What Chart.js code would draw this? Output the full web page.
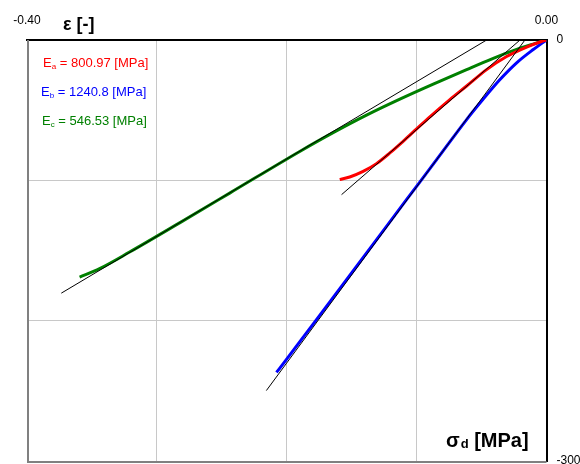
<!DOCTYPE html>
<html><head><meta charset="utf-8">
<script src="https://cdn.jsdelivr.net/npm/chart.js@4.4.0/dist/chart.umd.min.js"></script>
<style>html,body{margin:0;padding:0;background:#fff;}</style>
</head><body>
<canvas id="c" width="580" height="464"></canvas>
<script>
// ---- data (strain ε [-], deviatoric stress σd [MPa]) ----
const strainA = [-0.1592,-0.1515,-0.1412,-0.1309,-0.1206,-0.1104,-0.1000,-0.0898,-0.0744,-0.0615,-0.0461,-0.0307,-0.0153,-0.0050,0];
const stressA = [-99.5,-97.6,-93.6,-88.1,-80.5,-72.2,-63.4,-54.8,-42.5,-32.8,-21.1,-11.8,-5.0,-1.4,0];
const strainB = [-0.2079,-0.2002,-0.1784,-0.1463,-0.1078,-0.0872,-0.0615,-0.0487,-0.0358,-0.0230,-0.0102,0];
const stressB = [-236.9,-227.6,-200.8,-161.4,-113.8,-88.5,-56.7,-42.1,-28.2,-16.3,-6.8,0];
const strainC = [-0.3595,-0.3441,-0.3210,-0.2825,-0.2439,-0.1900,-0.1643,-0.1386,-0.1129,-0.0872,-0.0615,-0.0410,-0.0256,-0.0102,0];
const stressC = [-168.9,-162.9,-151.1,-130.3,-109.1,-79.4,-66.0,-53.5,-42.1,-31.4,-21.1,-13.1,-7.6,-2.9,0];
// tangent (modulus) lines: two end points each
const tanStrainA = [-0.0204,-0.1578];
const tanStressA = [0,-110.2];
const tanStrainB = [-0.0166,-0.2157];
const tanStressB = [0,-249.8];
const tanStrainC = [-0.0461,-0.3736];
const tanStressC = [0,-180.4];
const moduli = ['800.97','1240.8','546.53'];
const subs = ['a','b','c'];
const xTickLabels = ['-0.40','0.00'];
const yTickLabels = ['-300','0'];

const colors = ['#ff0000','#0000ff','#008000'];
const FONT = 'Arial, "Liberation Sans", sans-serif';

function pts(xs, ys){ return xs.map((x,i)=>({x:x, y:ys[i]})); }

function curve(xs, ys, col){
  return {data: pts(xs,ys), borderColor: col, borderWidth: 3, pointRadius: 0, showLine: true, cubicInterpolationMode: 'monotone', order: 2, fill:false};
}
function tangent(xs, ys){
  return {data: pts(xs,ys), borderColor: '#000000', borderWidth: 1, pointRadius: 0, showLine: true, tension: 0, order: 1, fill:false};
}

const framePlugin = {
  id: 'frame',
  beforeDatasetsDraw(chart){
    const {ctx, chartArea:a} = chart;
    ctx.save();
    ctx.strokeStyle = '#808080';
    ctx.lineWidth = 2;
    ctx.beginPath();
    ctx.moveTo(a.left+1, a.top);
    ctx.lineTo(a.left+1, a.bottom+1);
    ctx.lineTo(a.right, a.bottom+1);
    ctx.stroke();
    ctx.restore();
  },
  afterDraw(chart){
    const {ctx, chartArea:a} = chart;
    ctx.save();
    ctx.textBaseline = 'alphabetic';
    ctx.textAlign = 'left';
    const offs = [[16,26.7],[14,55.5],[15,85]];
    for (let i=0;i<3;i++){
      let x = a.left + offs[i][0], y = a.top + offs[i][1];
      ctx.fillStyle = colors[i];
      ctx.font = '13px ' + FONT;
      ctx.fillText('E', x, y);
      x += ctx.measureText('E').width;
      ctx.font = '8px ' + FONT;
      ctx.fillText(subs[i], x, y+2);
      x += ctx.measureText(subs[i]).width;
      ctx.font = '13px ' + FONT;
      ctx.fillText(' = ' + moduli[i] + ' [MPa]', x, y);
    }
    // axis titles
    ctx.fillStyle = '#000';
    ctx.font = 'bold 18px ' + FONT;
    ctx.fillText('ε [-]', a.left + 36, a.top - 10);
    let x = a.left + 419, y = a.bottom - 14;
    ctx.font = 'bold 20px ' + FONT;
    ctx.fillText('σ', x, y);
    x += ctx.measureText('σ').width + 1;
    ctx.font = 'bold 13px ' + FONT;
    ctx.fillText('d', x, y+1);
    x += ctx.measureText('d').width;
    ctx.font = 'bold 20px ' + FONT;
    ctx.fillText(' [MPa]', x, y);
    ctx.restore();
  }
};

new Chart(document.getElementById('c'), {
  type: 'scatter',
  data: { datasets: [
    tangent(tanStrainA, tanStressA),
    tangent(tanStrainB, tanStressB),
    tangent(tanStrainC, tanStressC),
    curve(strainA, stressA, colors[0]),
    curve(strainB, stressB, colors[1]),
    curve(strainC, stressC, colors[2])
  ]},
  options: {
    responsive: false,
    animation: false,
    layout: { padding: { left: 27, right: 0, top: 0, bottom: 3 } },
    plugins: { legend: { display: false }, tooltip: { enabled: false } },
    scales: {
      x: {
        type: 'linear', position: 'top', min: -0.4, max: 0,
        afterFit(s){ s.height = 40; s.paddingLeft = 0; s.paddingRight = 0; },
        grid: { color: '#c8c8c8', lineWidth: 1, drawTicks: false },
        border: { color: '#000', width: 2 },
        ticks: {
          stepSize: 0.1, padding: 12, maxRotation: 0, autoSkip: false,
          color: '#000', font: { family: FONT, size: 12 },
          callback(v){ if (Math.abs(v + 0.4) < 1e-9) return xTickLabels[0]; if (Math.abs(v) < 1e-9) return xTickLabels[1]; return ''; }
        }
      },
      y: {
        type: 'linear', position: 'right', min: -300, max: 0,
        afterFit(s){ s.width = 33.5; s.paddingTop = 0; s.paddingBottom = 0; },
        grid: { color: '#c8c8c8', lineWidth: 1, drawTicks: false },
        border: { color: '#000', width: 2 },
        ticks: {
          stepSize: 100, padding: 10, autoSkip: false,
          color: '#000', font: { family: FONT, size: 12 },
          callback(v){ if (Math.abs(v + 300) < 1e-9) return yTickLabels[0]; if (Math.abs(v) < 1e-9) return yTickLabels[1]; return ''; }
        }
      }
    }
  },
  plugins: [framePlugin]
});
</script>
</body></html>
